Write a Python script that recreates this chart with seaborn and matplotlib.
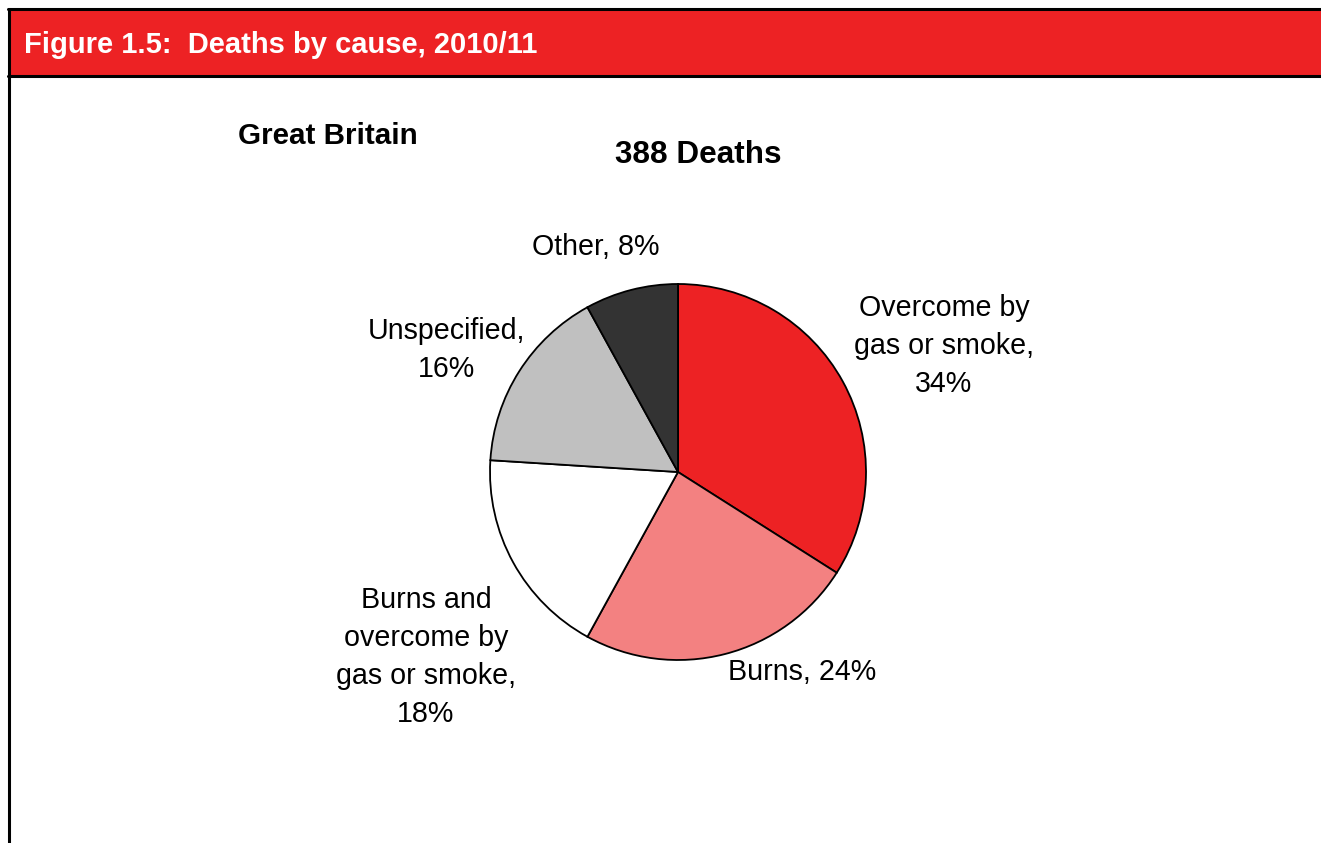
import seaborn as sns
import matplotlib.pyplot as plt
from matplotlib.patches import Rectangle
from matplotlib.lines import Line2D

# data (percent of 388 deaths)
causes = ['Overcome by\ngas or smoke,\n34%', 'Burns, 24%', 'Burns and\novercome by\ngas or smoke,\n18%',
          'Unspecified,\n16%', 'Other, 8%']
shares = [34, 24, 18, 16, 8]
colours = ['#ED2224', '#F38181', '#FFFFFF', '#C0C0C0', '#333333']

sns.set_style('white')
plt.rcParams['font.family'] = ['Liberation Sans', 'DejaVu Sans']
plt.rcParams['text.color'] = 'black'

W, H = 1321, 843
fig = plt.figure(figsize=(W/100, H/100), dpi=100)
ax = fig.add_axes([0, 0, 1, 1])

# header band and frame
ax.add_patch(Rectangle((8, H-76), W-8, 67, facecolor='#ED2224', edgecolor='none', zorder=1))
ax.add_line(Line2D([8, W], [H-9, H-9], color='black', lw=2.2, zorder=2))
ax.add_line(Line2D([8, W], [H-76, H-76], color='black', lw=2.2, zorder=2))
ax.add_line(Line2D([8.5, 8.5], [0, H-9], color='black', lw=2.2, zorder=2))
ax.text(24, H-45, 'Figure 1.5:  Deaths by cause, 2010/11', color='white', fontsize=21,
        fontweight='bold', ha='left', va='center')

ax.text(238, H-136, 'Great Britain', fontsize=21.3, fontweight='bold', ha='left', va='center')
ax.text(698, H-155, '388 Deaths', fontsize=22.7, fontweight='bold', ha='center', va='center')

ax.pie(shares, colors=colours, startangle=90, counterclock=False, center=(678, H-472), radius=188,
       wedgeprops=dict(edgecolor='black', linewidth=1.3))

label_pos = [(944, 346), (802, 672), (426, 657), (447, 350), (596, 247)]
for lab, (x, y) in zip(causes, label_pos):
    ax.text(x, H-y, lab, fontsize=20.6, ha='center', va='center', linespacing=1.46)

ax.set_xlim(0, W)
ax.set_ylim(0, H)
ax.set_aspect('auto')
ax.axis('off')

fig.savefig('out.png', dpi=100, facecolor='white')
